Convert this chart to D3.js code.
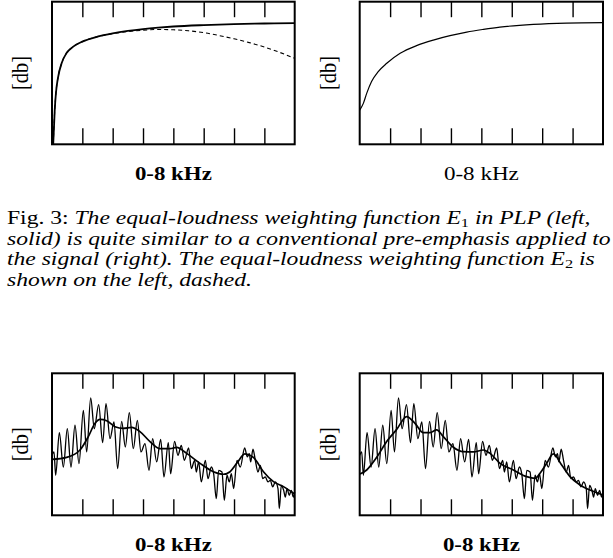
<!DOCTYPE html>
<html>
<head>
<meta charset="utf-8">
<script src="https://cdn.jsdelivr.net/npm/d3@7"></script>
<style>
  body { margin: 0; background: #fff; }
  svg { display: block; }
  text { font-family: "Liberation Serif", "Times New Roman", Times, "DejaVu Serif", serif; fill: #000; }
</style>
</head>
<body>
<div id="fig"></div>
<script>
// frequency axis: 0-8 kHz, ticks every 1 kHz (unlabelled)
var kHzTicks = [1, 2, 3, 4, 5, 6, 7];

// top left: equal-loudness weighting E1 (solid) and E2 (dashed), [kHz, relative db]
var e1Curve = [[0.04, 0.0], [0.09, 0.24], [0.13, 0.36], [0.2, 0.47], [0.32, 0.57], [0.48, 0.64],
  [0.7, 0.685], [1.0, 0.72], [1.5, 0.755], [2.0, 0.778], [2.5, 0.795], [3.0, 0.808], [3.5, 0.818],
  [4.0, 0.826], [5.0, 0.836], [6.0, 0.843], [7.0, 0.847], [8.0, 0.85]];
var e2Curve = [[0.04, 0.0], [0.09, 0.24], [0.13, 0.36], [0.2, 0.47], [0.32, 0.57], [0.48, 0.64],
  [0.7, 0.685], [1.0, 0.72], [1.5, 0.755], [2.0, 0.776], [2.5, 0.79], [3.0, 0.8], [3.5, 0.805],
  [4.0, 0.803], [4.5, 0.796], [5.0, 0.783], [5.5, 0.763], [6.0, 0.74], [6.5, 0.713], [7.0, 0.682],
  [7.5, 0.645], [8.0, 0.603]];

// top right: conventional pre-emphasis
var preEmphasis = [[0.0, 0.24], [0.12, 0.287], [0.23, 0.357], [0.39, 0.44], [0.61, 0.51], [0.89, 0.568],
  [1.33, 0.638], [1.87, 0.692], [2.42, 0.731], [2.97, 0.762], [3.52, 0.787], [4.07, 0.806],
  [4.61, 0.822], [5.71, 0.841], [6.8, 0.85], [8.0, 0.853]];

// bottom: short-time spectrum (same in both panels)
var spectrum = [[0.0, 0.423], [0.066, 0.446], [0.121, 0.282], [0.242, 0.582], [0.374, 0.34],
  [0.505, 0.61], [0.626, 0.34], [0.758, 0.634], [0.89, 0.364], [1.033, 0.739], [1.143, 0.446],
  [1.275, 0.826], [1.395, 0.61], [1.538, 0.779], [1.67, 0.512], [1.78, 0.786], [1.912, 0.54],
  [2.043, 0.657], [2.164, 0.329], [2.296, 0.662], [2.417, 0.481], [2.549, 0.723], [2.681, 0.469],
  [2.813, 0.669], [2.933, 0.446], [3.065, 0.505], [3.197, 0.317], [3.318, 0.54], [3.45, 0.376],
  [3.582, 0.535], [3.691, 0.27], [3.834, 0.512], [3.911, 0.293], [4.04, 0.52], [4.153, 0.423],
  [4.263, 0.493], [4.362, 0.387], [4.504, 0.474], [4.592, 0.329], [4.702, 0.387], [4.757, 0.305],
  [4.834, 0.376], [4.922, 0.235], [5.054, 0.387], [5.142, 0.258], [5.252, 0.34], [5.328, 0.293],
  [5.416, 0.117], [5.493, 0.317], [5.603, 0.305], [5.68, 0.106], [5.768, 0.282], [5.845, 0.235],
  [5.911, 0.293], [5.988, 0.188], [6.097, 0.387], [6.207, 0.34], [6.35, 0.474], [6.438, 0.411],
  [6.504, 0.434], [6.548, 0.376], [6.625, 0.465], [6.702, 0.387], [6.79, 0.305], [6.867, 0.352],
  [6.944, 0.258], [7.031, 0.27], [7.119, 0.235], [7.196, 0.246], [7.273, 0.2], [7.361, 0.235],
  [7.449, 0.188], [7.493, 0.047], [7.559, 0.211], [7.636, 0.176], [7.691, 0.129], [7.746, 0.188],
  [7.822, 0.141], [7.888, 0.176], [7.954, 0.129], [8.0, 0.164]];

// bottom left: PLP spectral envelope
var plpEnvelope = [[0.0, 0.394], [0.483, 0.408], [0.923, 0.46], [1.197, 0.554], [1.417, 0.648],
  [1.582, 0.676], [1.802, 0.666], [2.077, 0.624], [2.351, 0.612], [2.626, 0.619], [2.9, 0.589],
  [3.23, 0.519], [3.56, 0.469], [3.89, 0.469], [4.11, 0.479], [4.44, 0.436], [4.88, 0.366],
  [5.32, 0.307], [5.65, 0.289], [5.87, 0.307], [6.09, 0.366], [6.36, 0.432], [6.64, 0.408],
  [6.97, 0.307], [7.3, 0.237], [7.63, 0.202], [8.0, 0.15]];

// bottom right: envelope with pre-emphasis
var lpcEnvelope = [[0.01, 0.291], [0.229, 0.319], [0.558, 0.408], [0.887, 0.519], [1.216, 0.605],
  [1.545, 0.695], [1.818, 0.648], [2.092, 0.582], [2.312, 0.582], [2.531, 0.601], [2.75, 0.554],
  [3.079, 0.479], [3.408, 0.448], [3.737, 0.446], [4.065, 0.46], [4.285, 0.436], [4.614, 0.366],
  [5.052, 0.319], [5.49, 0.272], [5.765, 0.26], [5.929, 0.296], [6.148, 0.366], [6.367, 0.432],
  [6.641, 0.354], [6.915, 0.272], [7.244, 0.213], [7.573, 0.178], [8.0, 0.143]];

var xLabel = "0-8 kHz", yLabel = "[db]";

var W = 613, H = 558;

var cols = [[52, 294.7], [359.7, 603]];
var rows = [[1.7, 144.3], [373.3, 515.3]];

var svg = d3.select("#fig").append("svg")
  .attr("width", W)
  .attr("height", H);

svg.append("rect").attr("width", W).attr("height", H).attr("fill", "#fff");

// glyphs in the figure are wider than the font's own; fit a text to a width
function fitWidth(sel, target) {
  var len = sel.node().getComputedTextLength();
  return len > 0 ? target / len : 1;
}

function panel(c, r, opts) {
  var x0 = cols[c][0], x1 = cols[c][1], y0 = rows[r][0], y1 = rows[r][1];

  var x = d3.scaleLinear().domain([0, 8]).range([x0, x1]);
  var y = d3.scaleLinear().domain([0, 1]).range([y1, y0]);

  var g = svg.append("g").attr("class", "panel");

  // ticks hanging from the top edge and standing on the bottom edge
  var topAxis = d3.axisBottom(x).tickValues(kHzTicks).tickSize(15.5).tickFormat("");
  var bottomAxis = d3.axisTop(x).tickValues(kHzTicks).tickSize(16).tickFormat("");

  g.append("g")
    .attr("transform", "translate(0," + y0 + ")")
    .call(topAxis);
  g.append("g")
    .attr("transform", "translate(0," + y1 + ")")
    .call(bottomAxis);
  g.selectAll(".domain").remove();
  g.selectAll(".tick line").attr("stroke", "#000").attr("stroke-width", 1.4);

  var line = d3.line()
    .x(function(d) { return x(d[0]); })
    .y(function(d) { return y(d[1]); })
    .curve(d3.curveMonotoneX);

  opts.series.forEach(function(s) {
    g.append("path")
      .datum(s.data)
      .attr("fill", "none")
      .attr("stroke", "#000")
      .attr("stroke-width", s.width)
      .attr("stroke-dasharray", s.dash || null)
      .attr("stroke-linejoin", "round")
      .attr("d", line);
  });

  g.append("rect")
    .attr("x", x0)
    .attr("y", y0)
    .attr("width", x1 - x0)
    .attr("height", y1 - y0)
    .attr("fill", "none")
    .attr("stroke", "#000")
    .attr("stroke-width", 2);

  // y label, rotated; its run along y is 34px
  var yl = g.append("text")
    .attr("text-anchor", "middle")
    .attr("dy", "0.3em")
    .style("font-size", "19px")
    .text(yLabel);
  var ys = fitWidth(yl, 34);
  yl.attr("transform", "translate(" + (x0 - 30.5) + "," + ((y0 + y1) / 2) + ") scale(" + (1.1 * ys) + "," + ys + ") rotate(-90)");

  // x label, 76px wide
  var xl = g.append("text")
    .attr("text-anchor", "middle")
    .style("font-size", "19px")
    .style("font-weight", opts.bold ? "bold" : "normal")
    .text(xLabel);
  var xs = fitWidth(xl, opts.bold ? 77 : 75);
  xl.attr("transform", "translate(" + ((x0 + x1) / 2) + "," + (y1 + 35.5) + ") scale(" + xs + ",1)");
}

panel(0, 0, { bold: true, series: [
  { data: e2Curve, width: 1.1, dash: "4,3" },
  { data: e1Curve, width: 1.8 }
] });
panel(1, 0, { bold: false, series: [
  { data: preEmphasis, width: 1.2 }
] });
panel(0, 1, { bold: true, series: [
  { data: spectrum, width: 1.3 },
  { data: plpEnvelope, width: 1.7 }
] });
panel(1, 1, { bold: true, series: [
  { data: spectrum, width: 1.3 },
  { data: lpcEnvelope, width: 1.7 }
] });

// caption
var captionLines = [
  [{ t: "Fig. 3: ", up: true }, { t: "The equal-loudness weighting function E" }, { t: "1", sub: true }, { t: " in PLP (left," }],
  [{ t: "solid) is quite similar to a conventional pre-emphasis applied to" }],
  [{ t: "the signal (right). The equal-loudness weighting function E" }, { t: "2", sub: true }, { t: " is" }],
  [{ t: "shown on the left, dashed." }]
];
var captionBase = [224, 244.5, 265, 285.5];

var capTexts = captionLines.map(function(segs, i) {
  var t = svg.append("text")
    .attr("y", 0)
    .style("font-size", "18px");
  var shifted = false;
  segs.forEach(function(s) {
    var ts = t.append("tspan")
      .style("font-style", (s.up || s.sub) ? "normal" : "italic")
      .text(s.t);
    if (s.sub) {
      ts.style("font-size", "12.5px").attr("dy", 3);
      shifted = true;
    } else if (shifted) {
      ts.attr("dy", -3);
      shifted = false;
    }
  });
  return t;
});

// widest line (line 2) must end just inside the right edge
var capStretch = fitWidth(capTexts[1], 604);
capTexts.forEach(function(t, i) {
  t.attr("transform", "translate(7," + captionBase[i] + ") scale(" + capStretch + ",1)");
});
</script>
</body>
</html>
